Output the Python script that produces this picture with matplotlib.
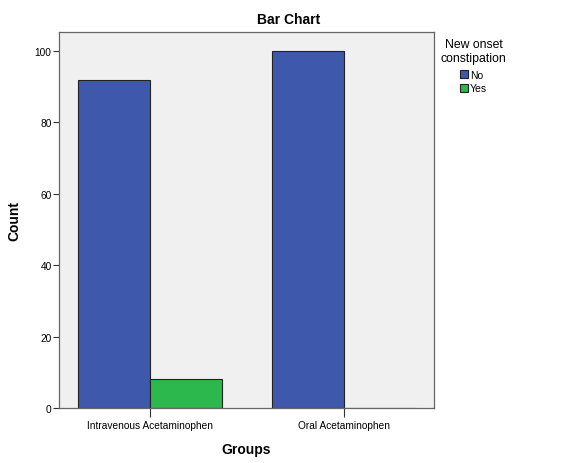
import numpy as np
import matplotlib.pyplot as plt
from matplotlib.patches import Patch

plt.rcParams['font.family'] = ['Liberation Sans', 'DejaVu Sans']

groups = ['Intravenous Acetaminophen', 'Oral Acetaminophen']
series = ['No', 'Yes']
counts_no = [92, 100]
counts_yes = [8, 0]
colors = ['#3e58ac', '#2db84d']

fig = plt.figure(figsize=(5.8, 4.64), dpi=100)
ax = fig.add_axes([0.1017, 0.1185, 0.6466, 0.8103])
ax.set_facecolor('#f0f0f0')

x = np.arange(len(groups))
w = 0.371
ax.bar(x - w / 2, counts_no, width=w, color=colors[0], edgecolor='#222222', linewidth=0.8)
ax.bar(x + w / 2, counts_yes, width=w, color=colors[1], edgecolor='#222222', linewidth=0.8)

ax.set_xlim(-0.469, 1.464)
ax.set_ylim(0, 105.3)
ax.set_yticks([0, 20, 40, 60, 80, 100])
ax.set_xticks(x)
ax.set_xticklabels(groups, fontsize=7.3)
ax.tick_params(axis='y', labelsize=7.3, length=4.3, pad=1, direction='out', color='#333333')
ax.tick_params(axis='x', length=6.5, pad=2, direction='out', color='#333333')

for s in ax.spines.values():
    s.set_color('#666666')
    s.set_linewidth(0.9)

# title centred on the whole figure, like the SPSS output
fig.text(0.497, 0.957, 'Bar Chart', fontsize=10, fontweight='bold', ha='center', va='center')
ax.set_xlabel('Groups', fontsize=10, fontweight='bold', labelpad=9)
ax.set_ylabel('Count', fontsize=10, fontweight='bold')
ax.yaxis.set_label_coords(-0.101, 0.5)

handles = [Patch(facecolor=c, edgecolor='#222222', linewidth=0.8) for c in colors]
leg = fig.legend(handles, series, title='New onset\nconstipation', loc='upper left',
                 bbox_to_anchor=(0.760, 0.915), frameon=False, fontsize=7.5,
                 title_fontsize=8.8, handlelength=0.8, handleheight=0.8,
                 handletextpad=0.15, labelspacing=0.35, borderpad=0, borderaxespad=0)
leg.get_title().set_multialignment('center')
leg._legend_box.sep = 4

fig.savefig('out.png', dpi=100, facecolor='white')
